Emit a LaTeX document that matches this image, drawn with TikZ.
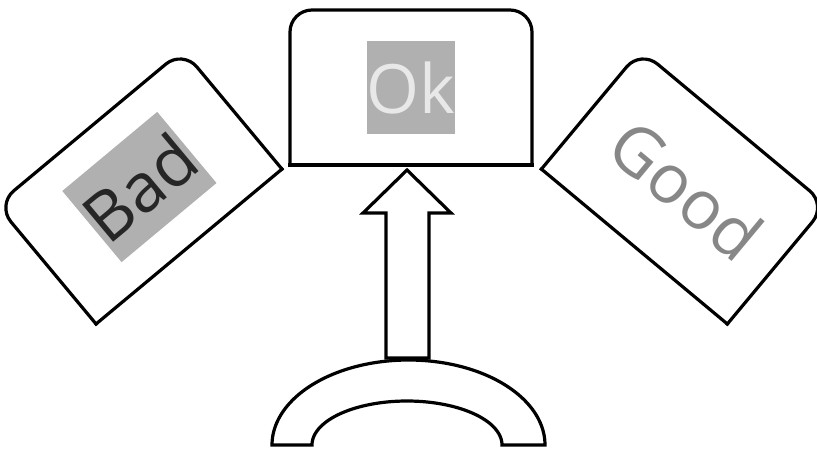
\documentclass[tikz,border=0pt]{standalone}
\usepackage{fontspec}
\setmainfont{Open Sans}
\definecolor{bgGray}{HTML}{B0B0B0}
\definecolor{okText}{HTML}{E8E8E8}
\definecolor{badText}{HTML}{262626}
\definecolor{goodText}{HTML}{878787}
\begin{document}
\begin{tikzpicture}[x=1pt,y=-1pt,line width=3.2pt,line join=miter]
\tikzset{
  frame/.style={minimum width=242pt,minimum height=155pt,inner sep=0pt,outer sep=0pt},
  rim/.style={draw=black,line width=3.2pt,line cap=rect,rounded corners=22pt},
  baseedge/.style={draw=black,line width=3.2pt,line cap=rect},
  lbl/.style={font=\fontsize{68}{80}\selectfont,inner sep=0pt,outer sep=0pt,
              text height=72.7pt,text depth=19.9pt},
  hollow/.style={draw=black,line width=3.2pt,fill=white}
}
\useasboundingbox (0,0) rectangle (817,448);

% frames
\node[frame] (okbox) at (411,87.5) {};
\node[frame,rotate=39.8] (badbox) at (139.4,187) {};
\node[frame,rotate=-39.8] (goodbox) at (684,187) {};

\foreach \b in {okbox,badbox,goodbox}{
  \draw[rim] (\b.south west) -- (\b.north west) -- (\b.north east) -- (\b.south east);
  \draw[baseedge] (\b.south west) -- (\b.south east);
}

% labels
\node[lbl,fill=bgGray,text=okText] (ok) at (okbox.center) {Ok};
\node[lbl,fill=bgGray,text=badText,rotate=39.8] (bad) at (badbox.center) {Bad};
\node[lbl,text=goodText,rotate=-39.8] (good) at ([shift={(3,2)}]goodbox.center) {Good};

% arch
\draw[hollow] plot[domain=180:0,samples=120] ({408.5+136.5*cos(\x)},{445-85*sin(\x)})
  -- plot[domain=0:180,samples=120] ({407+95*cos(\x)},{445-44*sin(\x)}) -- cycle;

% hollow arrow from arch to Ok box
\coordinate (sl) at (386,358);
\coordinate (sr) at (429,358);
\coordinate (hl) at (363,213);
\coordinate (hr) at (451,213);
\coordinate (tip) at (407,170);
\draw[hollow] (sl) -- (sl |- hl) -- (hl) -- (tip) -- (hr) -- (sr |- hr) -- (sr) -- cycle;
\end{tikzpicture}
\end{document}
